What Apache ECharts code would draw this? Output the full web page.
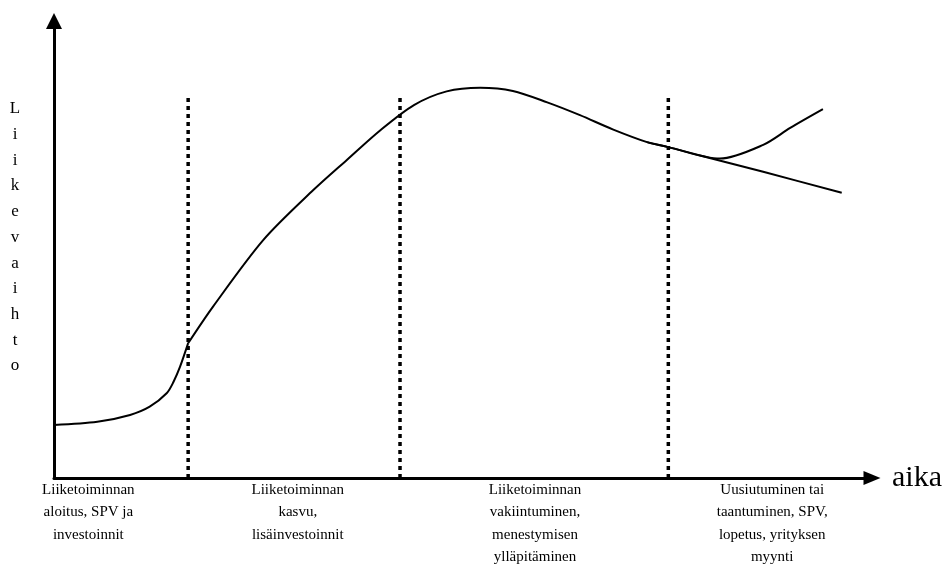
<!DOCTYPE html>
<html>
<head>
<meta charset="utf-8">
<script src="https://cdn.jsdelivr.net/npm/echarts@6/dist/echarts.min.js"></script>
<style>
  html, body { margin: 0; padding: 0; background: #fff; }
  #chart { width: 946px; height: 587px; }
</style>
</head>
<body>
<div id="chart"></div>
<script>
// Liiketoiminnan elinkaari: käyrä luettu kuvasta (x = aika 0..100, y = liikevaihto 0..100)
const startPhase = [[0, 11.6], [5.3, 12.3], [9.3, 13.8], [11.7, 15.6], [13.8, 18.6], [14.6, 21.0], [15.4, 24.3], [16.4, 29.5]]
const mainCurve = [[16.4, 29.5], [19.4, 37.4], [25.6, 52.1], [31.7, 63.0], [35.8, 69.6], [39.9, 76.1],
  [44.0, 81.6], [48.0, 84.6], [52.1, 85.4], [56.1, 84.7], [60.3, 82.2], [64.3, 79.4], [68.3, 76.3],
  [72.5, 73.5], [75.1, 72.4], [79.8, 70.2], [86.7, 67.0], [96.3, 62.4]]
const renewalCurve = [[72.5, 73.5], [75.1, 72.4], [81.4, 69.9], [86.7, 72.9], [90.0, 76.6], [94.0, 80.7]]

// vaiheiden rajat ja nimet
const phaseBounds = [16.4, 42.3, 75.1]
const phaseTop = 83.4
const phaseCenters = [4.2, 29.8, 58.8, 87.8]
const phaseLabels = [
  'Liiketoiminnan\naloitus, SPV ja\ninvestoinnit',
  'Liiketoiminnan\nkasvu,\nlisäinvestoinnit',
  'Liiketoiminnan\nvakiintuminen,\nmenestymisen\nylläpitäminen',
  'Uusiutuminen tai\ntaantuminen, SPV,\nlopetus, yrityksen\nmyynti'
]
const yName = 'Liikevaihto'
const xName = 'aika'

const serif = '"Liberation Serif", "Times New Roman", serif'
const myChart = echarts.init(document.getElementById('chart'))

const curveStyle = { color: '#000', width: 2 }
const curve = data => ({
  type: 'line',
  data: data,
  smooth: 0.3,
  showSymbol: false,
  lineStyle: curveStyle
})

const series = [curve(startPhase), curve(mainCurve), curve(renewalCurve)]
phaseBounds.forEach(x => {
  series.push({
    type: 'line',
    data: [[x, 0], [x, phaseTop]],
    showSymbol: false,
    lineStyle: { color: '#000', width: 3.5, type: [4, 4] }
  })
})

const option = {
  animation: false,
  silent: true,
  grid: { left: 54, right: 74, top: 21, bottom: 109 },
  // pystyakselin nimi kirjain kerrallaan allekkain
  graphic: [{
    type: 'text',
    x: 15,
    y: 96,
    style: {
      text: yName.split('').join('\n'),
      font: '17px ' + serif,
      lineHeight: 25.7,
      fill: '#000',
      align: 'center',
      verticalAlign: 'top'
    }
  }],
  xAxis: {
    type: 'value',
    min: 0,
    max: 100,
    name: xName,
    nameLocation: 'end',
    nameGap: 20,
    nameTextStyle: { fontFamily: serif, fontSize: 30, color: '#000' },
    axisLine: {
      onZero: false,
      symbol: ['none', 'triangle'],
      symbolSize: [14, 17],
      lineStyle: { color: '#000', width: 3 }
    },
    axisTick: { show: false },
    splitLine: { show: false },
    axisLabel: {
      customValues: phaseCenters,
      formatter: v => phaseLabels[phaseCenters.indexOf(v)] || '',
      fontFamily: serif,
      fontSize: 15,
      lineHeight: 22.3,
      color: '#000',
      align: 'center',
      margin: 1
    }
  },
  yAxis: {
    type: 'value',
    min: 0,
    max: 100,
    axisLine: {
      show: true,
      onZero: false,
      symbol: ['none', 'triangle'],
      symbolSize: [16, 16],
      lineStyle: { color: '#000', width: 3 }
    },
    axisTick: { show: false },
    axisLabel: { show: false },
    splitLine: { show: false }
  },
  series: series
}

myChart.setOption(option)
</script>
</body>
</html>
